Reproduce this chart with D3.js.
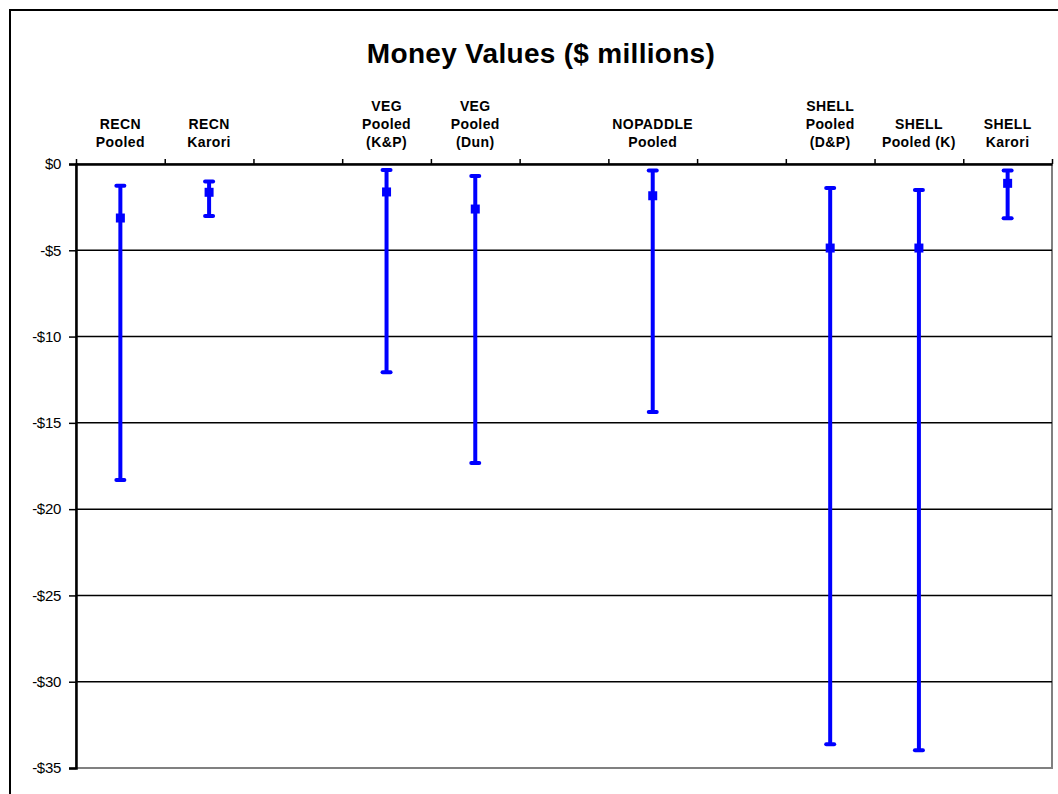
<!DOCTYPE html>
<html>
<head>
<meta charset="utf-8">
<script src="https://cdn.jsdelivr.net/npm/d3@7"></script>
<style>
  html, body { margin: 0; padding: 0; background: #fff; }
  svg { display: block; font-family: "Liberation Sans", Arial, sans-serif; }
</style>
</head>
<body>
<svg id="chart" width="1058" height="794"></svg>
<script>
// category labels (one entry per slot, lines split by "|"; empty slots have no data)
const categories = [
    'RECN|Pooled', 'RECN|Karori', '', 'VEG|Pooled|(K&P)', 'VEG|Pooled|(Dun)', '',
    'NOPADDLE|Pooled', '', 'SHELL|Pooled|(D&P)', 'SHELL|Pooled (K)', 'SHELL|Karori'
];
const means = [-3.13, -1.64, null, -1.62, -2.61, null, -1.84, null, -4.87, -4.87, -1.12];
const highs = [-1.26, -1.02, null, -0.35, -0.70, null, -0.37, null, -1.39, -1.51, -0.37];
const lows = [-18.31, -3.01, null, -12.07, -17.33, null, -14.37, null, -33.62, -33.97, -3.15];
const yTicks = [0, -5, -10, -15, -20, -25, -30, -35];

const svg = d3.select('#chart');
const margin = { top: 164, right: 5, bottom: 26, left: 76 };
const width = 1058, height = 794;
const innerRight = width - margin.right - 1;
const innerBottom = height - margin.bottom;

// outer chart frame
svg.append('rect')
    .attr('x', 10).attr('y', 10)
    .attr('width', 1060).attr('height', 800)
    .attr('fill', 'none')
    .attr('stroke', '#000')
    .attr('stroke-width', 2);

// title
svg.append('text')
    .attr('x', 541).attr('y', 63)
    .attr('text-anchor', 'middle')
    .attr('font-size', 28)
    .attr('font-weight', 'bold')
    .attr('letter-spacing', 0.3)
    .text('Money Values ($ millions)');

const idx = d3.range(categories.length);
const x = d3.scaleBand()
    .domain(idx)
    .range([margin.left, innerRight])
    .paddingInner(0).paddingOuter(0);
const xEdge = d3.scaleLinear()
    .domain([0, categories.length])
    .range([margin.left, innerRight]);
const y = d3.scaleLinear()
    .domain([0, -35])
    .range([margin.top, innerBottom]);

// plot area border (right and bottom grey)
svg.append('rect')
    .attr('x', margin.left).attr('y', margin.top)
    .attr('width', innerRight - margin.left)
    .attr('height', innerBottom - margin.top)
    .attr('fill', 'none')
    .attr('stroke', '#808080')
    .attr('stroke-width', 2);

// gridlines
svg.append('g')
    .selectAll('line')
    .data(yTicks.filter(d => d !== 0 && d !== -35))
    .enter()
    .append('line')
    .attr('x1', margin.left).attr('x2', innerRight)
    .attr('y1', d => y(d)).attr('y2', d => y(d))
    .attr('stroke', '#000')
    .attr('stroke-width', 1.5);

// y axis
const yAxis = svg.append('g')
    .attr('transform', `translate(${margin.left},0)`)
    .call(d3.axisLeft(y)
        .tickValues(yTicks)
        .tickSize(7)
        .tickPadding(8)
        .tickFormat(d => (d < 0 ? '-$' : '$') + Math.abs(d)));
yAxis.select('.domain').attr('stroke', '#000').attr('stroke-width', 2.5);
yAxis.selectAll('.tick line').attr('stroke', '#000').attr('stroke-width', 1.5);
yAxis.selectAll('.tick text')
    .attr('font-size', 15)
    .attr('font-family', '"Liberation Sans", Arial, sans-serif')
    .attr('letter-spacing', -0.3)
    .attr('fill', '#000');

// top category axis (ticks between categories)
const xAxis = svg.append('g')
    .attr('transform', `translate(0,${margin.top})`)
    .call(d3.axisTop(xEdge)
        .tickValues(d3.range(categories.length + 1))
        .tickSize(5)
        .tickSizeOuter(0)
        .tickFormat(''));
xAxis.select('.domain').attr('stroke', '#000').attr('stroke-width', 2.5);
xAxis.selectAll('.tick line').attr('stroke', '#000').attr('stroke-width', 1.5);

// category labels, bottom-aligned above the axis
const labelG = svg.append('g')
    .attr('font-size', 14)
    .attr('font-weight', 'bold')
    .attr('letter-spacing', 0.4)
    .attr('text-anchor', 'middle');
categories.forEach((c, i) => {
    if (!c) return;
    const lines = c.split('|');
    const t = labelG.append('text')
        .attr('x', x(i) + x.bandwidth() / 2);
    lines.forEach((ln, j) => {
        t.append('tspan')
            .attr('x', x(i) + x.bandwidth() / 2)
            .attr('y', 147 - (lines.length - 1 - j) * 18)
            .text(ln);
    });
});

// error bars
const rows = idx.filter(i => means[i] !== null).map(i => ({
    i, mean: means[i], high: highs[i], low: lows[i]
}));
const cx = d => x(d.i) + x.bandwidth() / 2;
const blue = '#0000ff';
const bars = svg.append('g');

bars.selectAll('line.stem')
    .data(rows).enter().append('line')
    .attr('class', 'stem')
    .attr('x1', cx).attr('x2', cx)
    .attr('y1', d => y(d.high)).attr('y2', d => y(d.low))
    .attr('stroke', blue).attr('stroke-width', 4);

['high', 'low'].forEach(k => {
    bars.selectAll('line.cap-' + k)
        .data(rows).enter().append('line')
        .attr('class', 'cap-' + k)
        .attr('x1', d => cx(d) - 4).attr('x2', d => cx(d) + 4)
        .attr('y1', d => y(d[k])).attr('y2', d => y(d[k]))
        .attr('stroke', blue).attr('stroke-width', 4)
        .attr('stroke-linecap', 'round');
});

bars.selectAll('rect.mean')
    .data(rows).enter().append('rect')
    .attr('class', 'mean')
    .attr('x', d => cx(d) - 4.5).attr('y', d => y(d.mean) - 4.5)
    .attr('width', 9).attr('height', 9)
    .attr('fill', blue);
</script>
</body>
</html>
